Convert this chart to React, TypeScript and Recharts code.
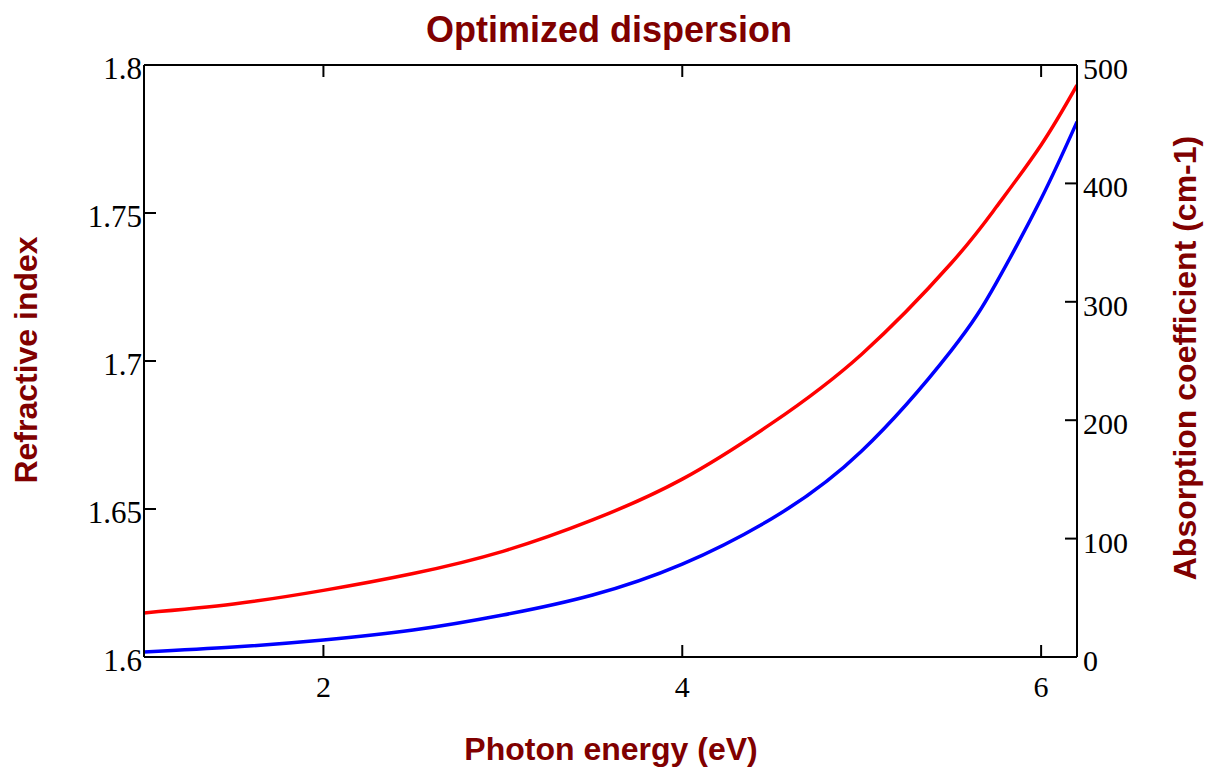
import React from 'react';
import { LineChart, Line, XAxis, YAxis } from 'recharts';

const energy = [1.0, 1.5, 2.0, 2.5, 3.0, 3.5, 4.0, 4.5, 5.0, 5.5, 5.75, 6.0, 6.2];
const refractiveIndex = [1.6149, 1.6179, 1.6225, 1.6282, 1.6357, 1.6463, 1.6601, 1.679, 1.7023, 1.7331, 1.752, 1.773, 1.7932];
const absorption = [4.2, 8.4, 14.4, 22.8, 35.5, 52.4, 78.5, 117, 174, 259, 316, 387, 452];

const xTicks = [2, 4, 6];
const leftTicks = [1.6, 1.65, 1.7, 1.75, 1.8];
const leftTickLabels = ['1.6', '1.65', '1.7', '1.75', '1.8'];
const rightTicks = [0, 100, 200, 300, 400, 500];

const data = energy.map((e, i) => ({ e, n: refractiveIndex[i], a: absorption[i] }));

const TICK_FONT = "'Liberation Serif', 'Times New Roman', serif";
const TITLE_FONT = "'Liberation Sans', Arial, sans-serif";
const DARK_RED = '#800000';
const TICK_LEN = 12;

const BottomTick = (props: any) => {
  const { x, y, payload } = props;
  return (
    <g>
      <line x1={x} x2={x} y1={y} y2={y - TICK_LEN} stroke="#000" strokeWidth={2} />
      <text x={x} y={y + 40} textAnchor="middle" fontSize={30} fontFamily={TICK_FONT} fill="#000">
        {payload.value}
      </text>
    </g>
  );
};

const TopTick = (props: any) => {
  const { x, y } = props;
  return <line x1={x} x2={x} y1={y} y2={y + TICK_LEN} stroke="#000" strokeWidth={2} />;
};

const LeftTick = (props: any) => {
  const { x, y, payload } = props;
  const label = leftTickLabels[leftTicks.indexOf(payload.value)] ?? String(payload.value);
  return (
    <g>
      <line x1={x} x2={x + TICK_LEN} y1={y} y2={y} stroke="#000" strokeWidth={2} />
      <text x={x - 2} y={y + 14} textAnchor="end" fontSize={31} fontFamily={TICK_FONT} fill="#000">
        {label}
      </text>
    </g>
  );
};

const RightTick = (props: any) => {
  const { x, y, payload } = props;
  return (
    <g>
      <line x1={x} x2={x - TICK_LEN} y1={y} y2={y} stroke="#000" strokeWidth={2} />
      <text x={x + 6} y={y + 14} textAnchor="start" fontSize={30} fontFamily={TICK_FONT} fill="#000">
        {payload.value}
      </text>
    </g>
  );
};

export default function App() {
  const axisLine = { stroke: '#000', strokeWidth: 2 };
  return (
    <div style={{ position: 'absolute', left: 0, top: 0, width: 1205, height: 769, background: '#fff' }}>
      <LineChart width={1205} height={769} data={data} margin={{ top: 0, right: 0, bottom: 0, left: 0 }}>
        <XAxis
          dataKey="e"
          type="number"
          domain={[1, 6.2]}
          ticks={xTicks}
          xAxisId="bottom"
          orientation="bottom"
          height={112}
          tickSize={0}
          tickMargin={0}
          tickLine={false}
          axisLine={axisLine}
          tick={<BottomTick />}
          allowDataOverflow
        />
        <XAxis
          dataKey="e"
          type="number"
          domain={[1, 6.2]}
          ticks={xTicks}
          xAxisId="top"
          orientation="top"
          height={65}
          tickSize={0}
          tickMargin={0}
          tickLine={false}
          axisLine={axisLine}
          tick={<TopTick />}
          allowDataOverflow
        />
        <YAxis
          yAxisId="left"
          orientation="left"
          type="number"
          domain={[1.6, 1.8]}
          ticks={leftTicks}
          width={144}
          tickSize={0}
          tickMargin={0}
          tickLine={false}
          axisLine={axisLine}
          tick={<LeftTick />}
          interval={0}
          allowDataOverflow
        />
        <YAxis
          yAxisId="right"
          orientation="right"
          type="number"
          domain={[0, 500]}
          ticks={rightTicks}
          width={128}
          tickSize={0}
          tickMargin={0}
          tickLine={false}
          axisLine={axisLine}
          tick={<RightTick />}
          interval={0}
          allowDataOverflow
        />
        <Line
          xAxisId="bottom"
          yAxisId="left"
          dataKey="n"
          type="natural"
          stroke="#ff0000"
          strokeWidth={3.5}
          dot={false}
          isAnimationActive={false}
        />
        <Line
          xAxisId="bottom"
          yAxisId="right"
          dataKey="a"
          type="natural"
          stroke="#0000ff"
          strokeWidth={3.5}
          dot={false}
          isAnimationActive={false}
        />
      </LineChart>
      <svg
        width={1205}
        height={769}
        style={{ position: 'absolute', left: 0, top: 0, pointerEvents: 'none' }}
      >
        <text x={609} y={42} textAnchor="middle" fontSize={36} fontWeight="bold" fontFamily={TITLE_FONT} fill={DARK_RED}>
          Optimized dispersion
        </text>
        <text x={611} y={760} textAnchor="middle" fontSize={32} fontWeight="bold" fontFamily={TITLE_FONT} fill={DARK_RED}>
          Photon energy (eV)
        </text>
        <text
          transform="translate(37,360) rotate(-90)"
          textAnchor="middle"
          fontSize={32}
          fontWeight="bold"
          fontFamily={TITLE_FONT}
          fill={DARK_RED}
        >
          Refractive index
        </text>
        <text
          transform="translate(1196,358) rotate(-90)"
          textAnchor="middle"
          fontSize={32}
          fontWeight="bold"
          fontFamily={TITLE_FONT}
          fill={DARK_RED}
        >
          Absorption coefficient (cm-1)
        </text>
      </svg>
    </div>
  );
}
